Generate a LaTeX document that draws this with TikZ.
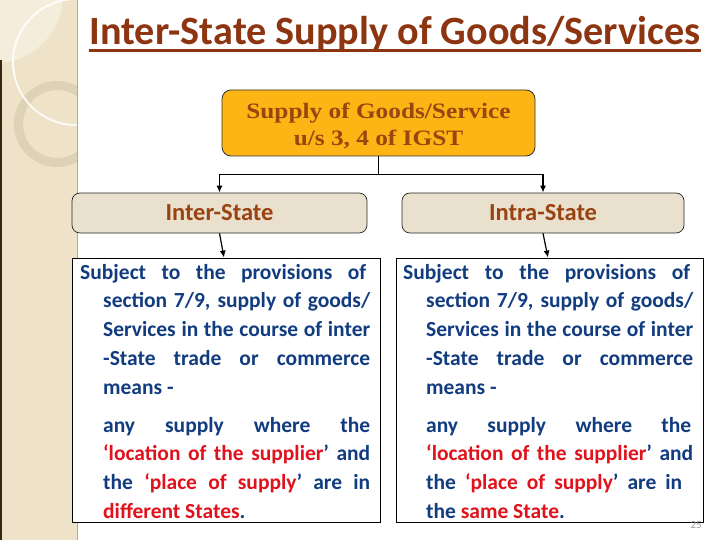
\documentclass[tikz,border=0pt]{standalone}
\usepackage{fontspec}
\setmainfont{Carlito}
\newfontfamily\capser{Liberation Serif}[FakeStretch=1.15]
\usetikzlibrary{arrows.meta,calc}
\definecolor{titlebrown}{HTML}{8C3510}
\definecolor{topfill}{HTML}{FDB515}
\definecolor{topbrown}{HTML}{98450F}
\definecolor{midfill}{HTML}{E9E0CD}
\definecolor{midbrown}{HTML}{9A4212}
\definecolor{bodyblue}{HTML}{123C80}
\definecolor{redtxt}{HTML}{E0121C}
\definecolor{stripbg}{HTML}{EEE3C8}
\definecolor{striplight}{HTML}{F4EDDC}
\definecolor{ringcol}{HTML}{DDD2B6}
\newcommand{\jl}[2]{\makebox[#1][s]{#2}}
\newcommand{\rd}[1]{{\color{redtxt}#1}}
\tikzset{
  topbox/.style={draw=black!80, line width=0.8pt, fill=topfill, rounded corners=9pt,
    minimum width=313pt, minimum height=66pt, inner sep=0pt, align=center,
    text=topbrown, font=\capser\bfseries\fontsize{22}{27}\selectfont},
  midbox/.style={draw=black!85, line width=0.7pt, fill=midfill, rounded corners=8pt,
    minimum height=40pt, inner sep=0pt, text=midbrown,
    font=\bfseries\fontsize{24.5}{27}\selectfont},
  textbox/.style={draw=black, line width=0.8pt, fill=white, minimum width=#1,
    minimum height=264pt, inner sep=0pt},
  bodytext/.style={anchor=base west, inner sep=0pt, text=bodyblue,
    font=\bfseries\fontsize{21.5}{28.8}\selectfont},
  conn/.style={draw=black, line width=1.4pt},
  tip/.style={-{Latex[length=7pt,width=6pt]}}
}
\begin{document}
\begin{tikzpicture}[x=1pt,y=-1pt]
\useasboundingbox (0,0) rectangle (720,540);
% left decorative strip
\fill[stripbg] (0,0) rectangle (78,540);
\begin{scope}
  \clip (0,0) rectangle (78,540);
  \fill[striplight] (-5,-5) circle (68);
  \draw[ringcol, line width=9pt] (57,124) circle (38.5);
  \draw[white, opacity=0.85, line width=2pt] (76,62) circle (63);
\end{scope}
\draw[black!70!brown, line width=1.5pt] (0.75,60) -- (0.75,540);
\draw[black!25!stripbg, line width=1.5pt] (77.5,0) -- (77.5,540);
% title
\node[anchor=base, inner sep=0pt, text=titlebrown,
  font=\bfseries\fontsize{40.2}{46}\selectfont] (title) at (395,45) {Inter-State Supply of Goods/Services};
\draw[titlebrown, line width=2.6pt] ($(title.base west)+(0,5.5)$) -- ($(title.base east)+(0,5.5)$);
% top box
\node[topbox] (top) at (378.5,123) {\rule{0pt}{22pt}Supply of Goods/Service\\u/s 3, 4 of IGST};
% middle boxes
\node[midbox, minimum width=295pt] (inter) at (219.5,213) {Inter-State};
\node[midbox, minimum width=282pt] (intra) at (543,213) {Intra-State};
% text boxes
\node[textbox=308pt] (Lbox) at (226,390) {};
\node[textbox=307pt] (Rbox) at (549.5,390) {};
% connectors
\draw[conn] (top.south) -- ++(0,18) coordinate (split);
\draw[conn, tip] (split) -| (inter.north);
\draw[conn, tip] (split) -| (intra.north);
\draw[conn, line width=1.2pt, tip] (inter.south) -- ($(Lbox.north)+(-2,0)$);
\draw[conn, line width=1.2pt, tip] (intra.south) -- ($(Rbox.north)+(-1.5,0)$);
% body texts
\node[bodytext] (Ltext) at (80,279) {\parbox[t]{295pt}{%
\jl{286pt}{Subject to the provisions of}\\
\hspace*{23pt}\jl{267pt}{section 7/9, supply of goods/}\\
\hspace*{23pt}\jl{267pt}{Services in the course of inter}\\
\hspace*{23pt}\jl{267pt}{-State trade or commerce}\\
\hspace*{23pt}means -\\[9pt]
\hspace*{23pt}\jl{267pt}{any supply where the}\\
\hspace*{23pt}\jl{267pt}{\rd{‘location of the supplier}’ and}\\
\hspace*{23pt}\jl{267pt}{the \rd{‘place of supply}’ are in}\\
\hspace*{23pt}\rd{different States}.}};
\node[bodytext] (Rtext) at (403,279) {\parbox[t]{295pt}{%
\jl{287pt}{Subject to the provisions of}\\
\hspace*{23pt}\jl{267pt}{section 7/9, supply of goods/}\\
\hspace*{23pt}\jl{267pt}{Services in the course of inter}\\
\hspace*{23pt}\jl{267pt}{-State trade or commerce}\\
\hspace*{23pt}means -\\[9pt]
\hspace*{23pt}\jl{265pt}{any supply where the}\\
\hspace*{23pt}\jl{267pt}{\rd{‘location of the supplier}’ and}\\
\hspace*{23pt}\jl{256pt}{the \rd{‘place of supply}’ are in}\\
\hspace*{23pt}the \rd{same State}.}};
% page number
\node[anchor=base east, inner sep=0pt, text=black!40, font=\fontsize{11}{12}\selectfont] (pg) at (702,528) {25};
\end{tikzpicture}
\end{document}
